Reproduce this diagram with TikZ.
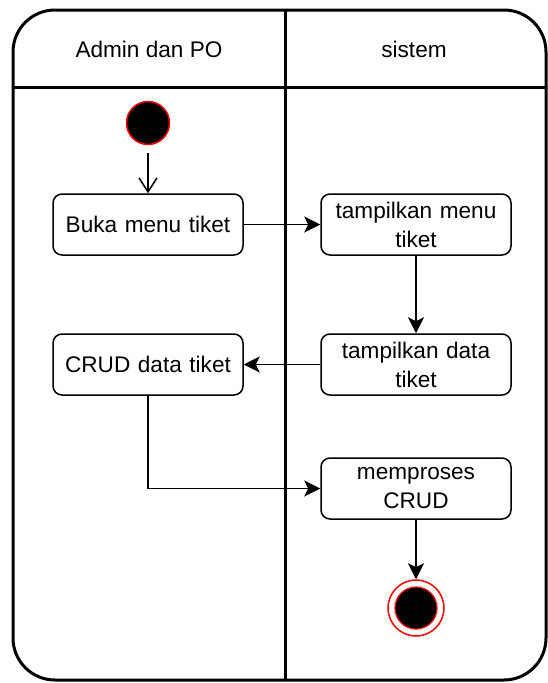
\documentclass[tikz,border=0pt]{standalone}
\usepackage{fontspec}
\setmainfont{Liberation Sans}
\usetikzlibrary{arrows.meta}
\begin{document}
\begin{tikzpicture}[x=1pt,y=-1pt,
  act/.style={draw, fill=white, rounded corners=9pt, line width=1.5pt, minimum width=190pt, minimum height=61pt, text width=185pt, align=center, font=\fontsize{22.6}{29}\selectfont, inner sep=0pt},
  lbl/.style={font=\fontsize{22.6}{29}\selectfont, inner sep=0pt},
  lane/.style={line width=3pt},
  arr/.style={line width=1.5pt, -{Stealth[length=16pt,width=16pt,inset=4pt]}},
  openarr/.style={line width=1.5pt, -{Straight Barb[length=14pt,width=18pt,line width=1.5pt]}},
]
\useasboundingbox (0,0) rectangle (548,683);
% frame and lanes
\draw[lane, rounded corners=42pt] (13,10) rectangle (546,680);
\draw[lane] (285,10) -- (285,680);
\draw[lane] (13,87) -- (546,87);
\node[lbl] (h1) at (149,49) {Admin dan PO};
\node[lbl] (h2) at (414,49) {sistem};
% nodes
\node[circle, fill=black, draw=red, line width=1.5pt, minimum size=43pt, inner sep=0pt] (start) at (148,123) {};
\node[act] (buka) at (148,224.5) {Buka menu tiket};
\node[act] (tmenu) at (416,224.5) {tampilkan menu\\tiket};
\node[act] (tdata) at (416,364.5) {tampilkan data\\tiket};
\node[act] (crud) at (148,364.5) {CRUD data tiket};
\node[act] (proses) at (416,488.5) {memproses\\CRUD};
\node[circle, draw=red, line width=1.5pt, minimum size=56pt, inner sep=0pt] (endo) at (416,608) {};
\node[circle, fill=black, draw=red, line width=1.2pt, minimum size=42pt, inner sep=0pt] (endi) at (416,608) {};
% connectors
\draw[openarr, shorten <=8pt] (start) -- (buka);
\draw[arr] (buka) -- (tmenu);
\draw[arr] (tmenu) -- (tdata);
\draw[arr] (tdata) -- (crud);
\draw[arr] (crud.south) |- (proses.west);
\draw[arr] (proses) -- (endo);
\end{tikzpicture}
\end{document}
